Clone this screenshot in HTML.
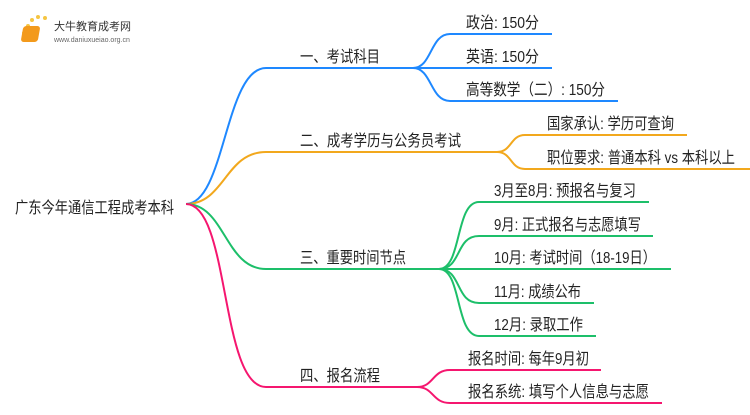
<!DOCTYPE html>
<html><head><meta charset="utf-8"><style>
body{margin:0;background:#fff;width:750px;height:410px;overflow:hidden}
text{font-family:"Liberation Sans","Noto Sans CJK SC",sans-serif;font-size:16px;fill:#222}
path{fill:none;stroke-width:2}
</style></head><body>
<svg width="750" height="410" xmlns="http://www.w3.org/2000/svg">
<g>
<circle cx="28" cy="26" r="2" fill="#f5c542"/><circle cx="32" cy="20" r="2" fill="#f5c542"/><circle cx="38" cy="17" r="2" fill="#f5c542"/><circle cx="45" cy="18" r="2" fill="#f5c542"/><circle cx="24" cy="33" r="2" fill="#f5c542"/>
<rect x="28" y="26" width="17" height="16" rx="3" fill="#f39a1c" transform="skewX(-10)"/>
<text x="54" y="30" style="font-size:11px;fill:#333">大牛教育成考网</text>
<text x="54" y="42" style="font-size:7px;fill:#666">www.daniuxueiao.org.cn</text>
</g>
<text x="15" y="213" textLength="159" lengthAdjust="spacingAndGlyphs">广东今年通信工程成考本科</text>
<g stroke="#1e88ff">
<path d="M186 204 C225 204 225 68 266 68 L413 68"/>
<path d="M413 68 C432 68 430 34 450 34 L552 34"/>
<path d="M413 68 L552 68"/>
<path d="M413 68 C432 68 430 101 450 101 L618 101"/>
</g>
<text x="300" y="62" textLength="80" lengthAdjust="spacingAndGlyphs">一、考试科目</text>
<text x="466" y="28" textLength="73" lengthAdjust="spacingAndGlyphs">政治: 150分</text>
<text x="466" y="62" textLength="73" lengthAdjust="spacingAndGlyphs">英语: 150分</text>
<text x="466" y="95" textLength="139" lengthAdjust="spacingAndGlyphs">高等数学（二）: 150分</text>
<g stroke="#f2a81d">
<path d="M186 204 C225 204 225 152 266 152 L497 152"/>
<path d="M497 152 C512 152 510 135 525 135 L687 135"/>
<path d="M497 152 C512 152 510 169 525 169 L750 169"/>
</g>
<text x="300" y="146" textLength="161" lengthAdjust="spacingAndGlyphs">二、成考学历与公务员考试</text>
<text x="547" y="129" textLength="127" lengthAdjust="spacingAndGlyphs">国家承认: 学历可查询</text>
<text x="547" y="163" textLength="188" lengthAdjust="spacingAndGlyphs">职位要求: 普通本科 vs 本科以上</text>
<g stroke="#1dbf6a">
<path d="M186 204 C225 204 225 269 266 269 L439 269"/>
<path d="M439 269 C462 269 455 202 479 202 L649 202"/>
<path d="M439 269 C462 269 455 236 479 236 L653 236"/>
<path d="M439 269 L671 269"/>
<path d="M439 269 C462 269 455 303 479 303 L594 303"/>
<path d="M439 269 C462 269 455 336 479 336 L596 336"/>
</g>
<text x="300" y="263" textLength="106" lengthAdjust="spacingAndGlyphs">三、重要时间节点</text>
<text x="494" y="196" textLength="142" lengthAdjust="spacingAndGlyphs">3月至8月: 预报名与复习</text>
<text x="494" y="230" textLength="147" lengthAdjust="spacingAndGlyphs">9月: 正式报名与志愿填写</text>
<text x="494" y="263" textLength="162" lengthAdjust="spacingAndGlyphs">10月: 考试时间（18-19日）</text>
<text x="494" y="297" textLength="87" lengthAdjust="spacingAndGlyphs">11月: 成绩公布</text>
<text x="494" y="330" textLength="89" lengthAdjust="spacingAndGlyphs">12月: 录取工作</text>
<g stroke="#f5166f">
<path d="M186 204 C230 204 220 387 266 387 L417 387"/>
<path d="M417 387 C434 387 432 370 450 370 L601 370"/>
<path d="M417 387 C434 387 432 403 450 403 L662 403"/>
</g>
<text x="300" y="381" textLength="80" lengthAdjust="spacingAndGlyphs">四、报名流程</text>
<text x="468" y="364" textLength="121" lengthAdjust="spacingAndGlyphs">报名时间: 每年9月初</text>
<text x="468" y="397" textLength="181" lengthAdjust="spacingAndGlyphs">报名系统: 填写个人信息与志愿</text>
</svg>
</body></html>
